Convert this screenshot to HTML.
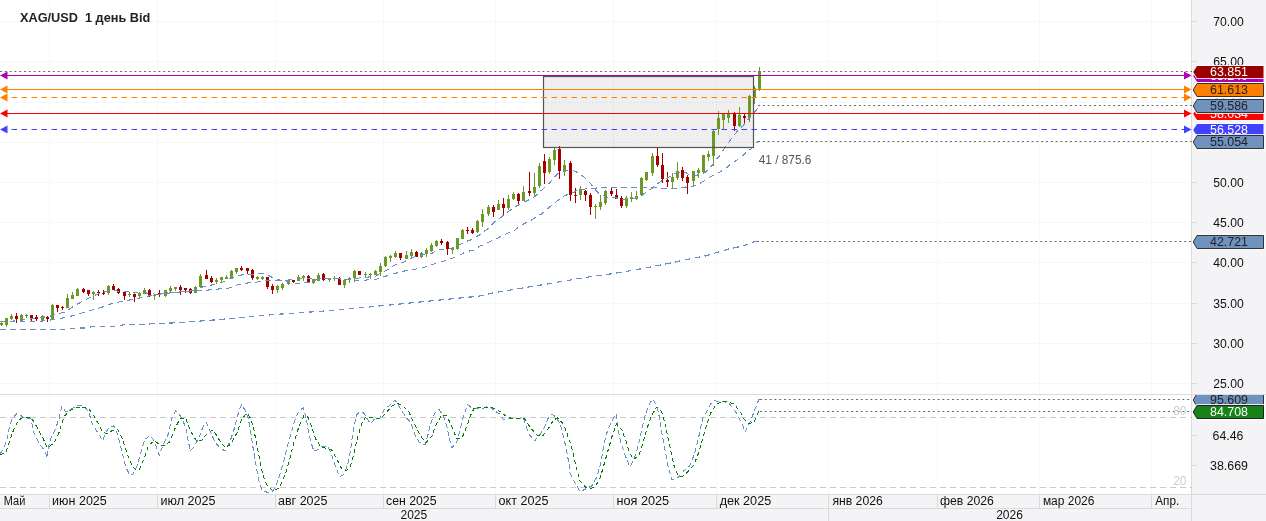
<!DOCTYPE html><html><head><meta charset="utf-8"><title>XAG/USD</title><style>html,body{margin:0;padding:0;background:#fff}svg{display:block}text{font-family:"Liberation Sans",sans-serif;font-size:12px}</style></head><body>
<svg width="1266" height="521" viewBox="0 0 1266 521">
<rect width="1266" height="521" fill="#fff"/>
<rect x="1192" y="0" width="74" height="521" fill="#f4f4f6"/>
<rect x="0" y="494" width="1266" height="27" fill="#f4f4f6"/>
<line x1="49.5" y1="0" x2="49.5" y2="494" stroke="#f7f7f7" stroke-width="1"/>
<line x1="157.5" y1="0" x2="157.5" y2="494" stroke="#f7f7f7" stroke-width="1"/>
<line x1="275.5" y1="0" x2="275.5" y2="494" stroke="#f7f7f7" stroke-width="1"/>
<line x1="383.5" y1="0" x2="383.5" y2="494" stroke="#f7f7f7" stroke-width="1"/>
<line x1="495.5" y1="0" x2="495.5" y2="494" stroke="#f7f7f7" stroke-width="1"/>
<line x1="613.5" y1="0" x2="613.5" y2="494" stroke="#f7f7f7" stroke-width="1"/>
<line x1="716.5" y1="0" x2="716.5" y2="494" stroke="#f7f7f7" stroke-width="1"/>
<line x1="828.5" y1="0" x2="828.5" y2="494" stroke="#f7f7f7" stroke-width="1"/>
<line x1="937.5" y1="0" x2="937.5" y2="494" stroke="#f7f7f7" stroke-width="1"/>
<line x1="1039.5" y1="0" x2="1039.5" y2="494" stroke="#f7f7f7" stroke-width="1"/>
<line x1="1151.5" y1="0" x2="1151.5" y2="494" stroke="#f7f7f7" stroke-width="1"/>
<line x1="0" y1="21.5" x2="1192" y2="21.5" stroke="#f7f7f7" stroke-width="1"/>
<line x1="0" y1="61.5" x2="1192" y2="61.5" stroke="#f7f7f7" stroke-width="1"/>
<line x1="0" y1="102.5" x2="1192" y2="102.5" stroke="#f7f7f7" stroke-width="1"/>
<line x1="0" y1="142.5" x2="1192" y2="142.5" stroke="#f7f7f7" stroke-width="1"/>
<line x1="0" y1="182.5" x2="1192" y2="182.5" stroke="#f7f7f7" stroke-width="1"/>
<line x1="0" y1="222.5" x2="1192" y2="222.5" stroke="#f7f7f7" stroke-width="1"/>
<line x1="0" y1="262.5" x2="1192" y2="262.5" stroke="#f7f7f7" stroke-width="1"/>
<line x1="0" y1="303.5" x2="1192" y2="303.5" stroke="#f7f7f7" stroke-width="1"/>
<line x1="0" y1="343.5" x2="1192" y2="343.5" stroke="#f7f7f7" stroke-width="1"/>
<line x1="0" y1="383.5" x2="1192" y2="383.5" stroke="#f7f7f7" stroke-width="1"/>
<line x1="1191.5" y1="0" x2="1191.5" y2="521" stroke="#dbdbdb"/>
<line x1="0" y1="394.5" x2="1266" y2="394.5" stroke="#dbdbdb"/>
<line x1="0" y1="494.5" x2="1266" y2="494.5" stroke="#dbdbdb"/>
<line x1="0" y1="508.5" x2="1192" y2="508.5" stroke="#dbdbdb"/>
<line x1="49.5" y1="494" x2="49.5" y2="508" stroke="#dbdbdb"/>
<line x1="157.5" y1="494" x2="157.5" y2="508" stroke="#dbdbdb"/>
<line x1="275.5" y1="494" x2="275.5" y2="508" stroke="#dbdbdb"/>
<line x1="383.5" y1="494" x2="383.5" y2="508" stroke="#dbdbdb"/>
<line x1="495.5" y1="494" x2="495.5" y2="508" stroke="#dbdbdb"/>
<line x1="613.5" y1="494" x2="613.5" y2="508" stroke="#dbdbdb"/>
<line x1="716.5" y1="494" x2="716.5" y2="508" stroke="#dbdbdb"/>
<line x1="828.5" y1="494" x2="828.5" y2="508" stroke="#dbdbdb"/>
<line x1="937.5" y1="494" x2="937.5" y2="508" stroke="#dbdbdb"/>
<line x1="1039.5" y1="494" x2="1039.5" y2="508" stroke="#dbdbdb"/>
<line x1="1151.5" y1="494" x2="1151.5" y2="508" stroke="#dbdbdb"/>
<line x1="828.5" y1="508" x2="828.5" y2="521" stroke="#dbdbdb"/>
<line x1="1192" y1="21.5" x2="1197" y2="21.5" stroke="#dbdbdb"/>
<text x="1213.2" y="25.8" fill="#111" textLength="30.5" lengthAdjust="spacingAndGlyphs">70.00</text>
<line x1="1192" y1="61.5" x2="1197" y2="61.5" stroke="#dbdbdb"/>
<text x="1213.2" y="65.8" fill="#111" textLength="30.5" lengthAdjust="spacingAndGlyphs">65.00</text>
<line x1="1192" y1="102.5" x2="1197" y2="102.5" stroke="#dbdbdb"/>
<text x="1213.2" y="106.8" fill="#111" textLength="30.5" lengthAdjust="spacingAndGlyphs">60.00</text>
<line x1="1192" y1="142.5" x2="1197" y2="142.5" stroke="#dbdbdb"/>
<text x="1213.2" y="146.8" fill="#111" textLength="30.5" lengthAdjust="spacingAndGlyphs">55.00</text>
<line x1="1192" y1="182.5" x2="1197" y2="182.5" stroke="#dbdbdb"/>
<text x="1213.2" y="186.8" fill="#111" textLength="30.5" lengthAdjust="spacingAndGlyphs">50.00</text>
<line x1="1192" y1="222.5" x2="1197" y2="222.5" stroke="#dbdbdb"/>
<text x="1213.2" y="226.8" fill="#111" textLength="30.5" lengthAdjust="spacingAndGlyphs">45.00</text>
<line x1="1192" y1="262.5" x2="1197" y2="262.5" stroke="#dbdbdb"/>
<text x="1213.2" y="266.8" fill="#111" textLength="30.5" lengthAdjust="spacingAndGlyphs">40.00</text>
<line x1="1192" y1="303.5" x2="1197" y2="303.5" stroke="#dbdbdb"/>
<text x="1213.2" y="307.8" fill="#111" textLength="30.5" lengthAdjust="spacingAndGlyphs">35.00</text>
<line x1="1192" y1="343.5" x2="1197" y2="343.5" stroke="#dbdbdb"/>
<text x="1213.2" y="347.8" fill="#111" textLength="30.5" lengthAdjust="spacingAndGlyphs">30.00</text>
<line x1="1192" y1="383.5" x2="1197" y2="383.5" stroke="#dbdbdb"/>
<text x="1213.2" y="387.8" fill="#111" textLength="30.5" lengthAdjust="spacingAndGlyphs">25.00</text>
<line x1="1192" y1="435.5" x2="1197" y2="435.5" stroke="#dbdbdb"/>
<text x="1212.6" y="439.8" fill="#111" textLength="30.8" lengthAdjust="spacingAndGlyphs">64.46</text>
<line x1="1192" y1="465.5" x2="1197" y2="465.5" stroke="#dbdbdb"/>
<text x="1210" y="469.8" fill="#111" textLength="38" lengthAdjust="spacingAndGlyphs">38.669</text>
<rect x="543.5" y="76.5" width="210" height="71" fill="#efefef"/>
<line x1="613.5" y1="77" x2="613.5" y2="147" stroke="#dadada" stroke-dasharray="1 2"/>
<line x1="716.5" y1="77" x2="716.5" y2="147" stroke="#dadada" stroke-dasharray="1 2"/>
<line x1="544" y1="102.5" x2="753" y2="102.5" stroke="#dadada" stroke-dasharray="1 2"/>
<line x1="544" y1="142.5" x2="753" y2="142.5" stroke="#dadada" stroke-dasharray="1 2"/>
<text x="3.8" y="505" fill="#111" textLength="21.5" lengthAdjust="spacingAndGlyphs">Май</text>
<text x="52.1" y="505" fill="#111" textLength="54.7" lengthAdjust="spacingAndGlyphs">июн 2025</text>
<text x="160.5" y="505" fill="#111" textLength="55" lengthAdjust="spacingAndGlyphs">июл 2025</text>
<text x="278" y="505" fill="#111" textLength="49.5" lengthAdjust="spacingAndGlyphs">авг 2025</text>
<text x="386" y="505" fill="#111" textLength="50.5" lengthAdjust="spacingAndGlyphs">сен 2025</text>
<text x="498.6" y="505" fill="#111" textLength="50" lengthAdjust="spacingAndGlyphs">окт 2025</text>
<text x="616.4" y="505" fill="#111" textLength="52.8" lengthAdjust="spacingAndGlyphs">ноя 2025</text>
<text x="719.7" y="505" fill="#111" textLength="51.5" lengthAdjust="spacingAndGlyphs">дек 2025</text>
<text x="832.4" y="505" fill="#111" textLength="50.4" lengthAdjust="spacingAndGlyphs">янв 2026</text>
<text x="939.9" y="505" fill="#111" textLength="54" lengthAdjust="spacingAndGlyphs">фев 2026</text>
<text x="1042.9" y="505" fill="#111" textLength="51.5" lengthAdjust="spacingAndGlyphs">мар 2026</text>
<text x="1155.2" y="505" fill="#111" textLength="24" lengthAdjust="spacingAndGlyphs">Апр.</text>
<text x="400.5" y="519" fill="#111">2025</text>
<text x="996.2" y="519" fill="#111">2026</text>
<text x="20" y="21.8" font-weight="bold" fill="#222" style="font-size:12.4px" textLength="130.3" lengthAdjust="spacingAndGlyphs" xml:space="preserve">XAG/USD  1 день Bid</text>
<g shape-rendering="crispEdges">
<line x1="1.5" y1="322.2" x2="1.5" y2="325.9" stroke="#6c9826" stroke-width="1"/>
<rect x="0.0" y="323.2" width="3" height="1.3" fill="#6c9826"/>
<line x1="6.5" y1="318.1" x2="6.5" y2="326.9" stroke="#6c9826" stroke-width="1"/>
<rect x="5.0" y="318.1" width="3" height="6.5" fill="#6c9826"/>
<line x1="11.5" y1="314.1" x2="11.5" y2="319.9" stroke="#6c9826" stroke-width="1"/>
<rect x="10.0" y="315.6" width="3" height="3.5" fill="#6c9826"/>
<line x1="16.5" y1="312.9" x2="16.5" y2="323.0" stroke="#a50000" stroke-width="1"/>
<rect x="15.0" y="315.8" width="3" height="3.3" fill="#a50000"/>
<line x1="21.5" y1="314.1" x2="21.5" y2="320.9" stroke="#6c9826" stroke-width="1"/>
<rect x="20.0" y="314.8" width="3" height="5.3" fill="#6c9826"/>
<line x1="26.5" y1="314.1" x2="26.5" y2="317.9" stroke="#6c9826" stroke-width="1"/>
<rect x="25.0" y="315.1" width="3" height="1.0" fill="#6c9826"/>
<line x1="31.5" y1="315.1" x2="31.5" y2="321.8" stroke="#a50000" stroke-width="1"/>
<rect x="30.0" y="315.1" width="3" height="3.0" fill="#a50000"/>
<line x1="36.5" y1="315.1" x2="36.5" y2="320.9" stroke="#a50000" stroke-width="1"/>
<rect x="35.0" y="317.3" width="3" height="2.1" fill="#a50000"/>
<line x1="42.5" y1="315.1" x2="42.5" y2="322.0" stroke="#6c9826" stroke-width="1"/>
<rect x="41.0" y="316.1" width="3" height="3.8" fill="#6c9826"/>
<line x1="47.5" y1="316.1" x2="47.5" y2="322.0" stroke="#a50000" stroke-width="1"/>
<rect x="46.0" y="316.6" width="3" height="2.8" fill="#a50000"/>
<line x1="52.5" y1="304.0" x2="52.5" y2="319.7" stroke="#6c9826" stroke-width="1"/>
<rect x="51.0" y="305.0" width="3" height="14.7" fill="#6c9826"/>
<line x1="57.5" y1="305.0" x2="57.5" y2="311.9" stroke="#a50000" stroke-width="1"/>
<rect x="56.0" y="305.2" width="3" height="2.6" fill="#a50000"/>
<line x1="62.5" y1="305.8" x2="62.5" y2="309.9" stroke="#a50000" stroke-width="1"/>
<rect x="61.0" y="306.9" width="3" height="1.0" fill="#a50000"/>
<line x1="67.5" y1="294.0" x2="67.5" y2="307.8" stroke="#6c9826" stroke-width="1"/>
<rect x="66.0" y="297.8" width="3" height="10.0" fill="#6c9826"/>
<line x1="72.5" y1="292.0" x2="72.5" y2="298.9" stroke="#6c9826" stroke-width="1"/>
<rect x="71.0" y="295.0" width="3" height="3.9" fill="#6c9826"/>
<line x1="77.5" y1="288.1" x2="77.5" y2="295.8" stroke="#6c9826" stroke-width="1"/>
<rect x="76.0" y="288.9" width="3" height="6.9" fill="#6c9826"/>
<line x1="83.5" y1="288.1" x2="83.5" y2="293.0" stroke="#a50000" stroke-width="1"/>
<rect x="82.0" y="288.9" width="3" height="3.1" fill="#a50000"/>
<line x1="88.5" y1="289.9" x2="88.5" y2="295.8" stroke="#a50000" stroke-width="1"/>
<rect x="87.0" y="289.9" width="3" height="3.8" fill="#a50000"/>
<line x1="93.5" y1="291.0" x2="93.5" y2="299.9" stroke="#6c9826" stroke-width="1"/>
<rect x="92.0" y="292.0" width="3" height="2.1" fill="#6c9826"/>
<line x1="98.5" y1="289.9" x2="98.5" y2="295.8" stroke="#a50000" stroke-width="1"/>
<rect x="97.0" y="292.0" width="3" height="1.0" fill="#a50000"/>
<line x1="103.5" y1="289.9" x2="103.5" y2="295.0" stroke="#a50000" stroke-width="1"/>
<rect x="102.0" y="292.5" width="3" height="1.5" fill="#a50000"/>
<line x1="108.5" y1="285.1" x2="108.5" y2="295.0" stroke="#6c9826" stroke-width="1"/>
<rect x="107.0" y="286.1" width="3" height="6.9" fill="#6c9826"/>
<line x1="113.5" y1="284.1" x2="113.5" y2="290.1" stroke="#a50000" stroke-width="1"/>
<rect x="112.0" y="286.1" width="3" height="4.0" fill="#a50000"/>
<line x1="118.5" y1="287.9" x2="118.5" y2="294.0" stroke="#a50000" stroke-width="1"/>
<rect x="117.0" y="288.9" width="3" height="4.1" fill="#a50000"/>
<line x1="124.5" y1="290.9" x2="124.5" y2="300.0" stroke="#a50000" stroke-width="1"/>
<rect x="123.0" y="292.0" width="3" height="3.9" fill="#a50000"/>
<line x1="129.5" y1="292.0" x2="129.5" y2="296.9" stroke="#6c9826" stroke-width="1"/>
<rect x="128.0" y="293.8" width="3" height="1.0" fill="#6c9826"/>
<line x1="134.5" y1="293.0" x2="134.5" y2="302.0" stroke="#a50000" stroke-width="1"/>
<rect x="133.0" y="294.0" width="3" height="2.9" fill="#a50000"/>
<line x1="139.5" y1="292.0" x2="139.5" y2="297.9" stroke="#6c9826" stroke-width="1"/>
<rect x="138.0" y="292.8" width="3" height="3.1" fill="#6c9826"/>
<line x1="144.5" y1="287.9" x2="144.5" y2="293.8" stroke="#6c9826" stroke-width="1"/>
<rect x="143.0" y="289.9" width="3" height="3.9" fill="#6c9826"/>
<line x1="149.5" y1="288.9" x2="149.5" y2="296.9" stroke="#a50000" stroke-width="1"/>
<rect x="148.0" y="289.9" width="3" height="6.0" fill="#a50000"/>
<line x1="154.5" y1="294.0" x2="154.5" y2="300.0" stroke="#6c9826" stroke-width="1"/>
<rect x="153.0" y="294.8" width="3" height="1.0" fill="#6c9826"/>
<line x1="159.5" y1="289.9" x2="159.5" y2="296.9" stroke="#a50000" stroke-width="1"/>
<rect x="158.0" y="292.8" width="3" height="1.2" fill="#a50000"/>
<line x1="165.5" y1="289.9" x2="165.5" y2="296.9" stroke="#6c9826" stroke-width="1"/>
<rect x="164.0" y="290.1" width="3" height="5.7" fill="#6c9826"/>
<line x1="170.5" y1="285.8" x2="170.5" y2="292.0" stroke="#6c9826" stroke-width="1"/>
<rect x="169.0" y="287.9" width="3" height="3.1" fill="#6c9826"/>
<line x1="175.5" y1="287.0" x2="175.5" y2="290.9" stroke="#6c9826" stroke-width="1"/>
<rect x="174.0" y="287.3" width="3" height="1.5" fill="#6c9826"/>
<line x1="180.5" y1="285.1" x2="180.5" y2="295.0" stroke="#a50000" stroke-width="1"/>
<rect x="179.0" y="287.0" width="3" height="2.9" fill="#a50000"/>
<line x1="185.5" y1="288.1" x2="185.5" y2="293.0" stroke="#a50000" stroke-width="1"/>
<rect x="184.0" y="288.1" width="3" height="1.8" fill="#a50000"/>
<line x1="190.5" y1="288.1" x2="190.5" y2="294.0" stroke="#a50000" stroke-width="1"/>
<rect x="189.0" y="289.4" width="3" height="3.6" fill="#a50000"/>
<line x1="195.5" y1="285.8" x2="195.5" y2="293.0" stroke="#6c9826" stroke-width="1"/>
<rect x="194.0" y="287.0" width="3" height="6.0" fill="#6c9826"/>
<line x1="200.5" y1="274.0" x2="200.5" y2="287.0" stroke="#6c9826" stroke-width="1"/>
<rect x="199.0" y="276.0" width="3" height="11.0" fill="#6c9826"/>
<line x1="206.5" y1="269.9" x2="206.5" y2="278.8" stroke="#a50000" stroke-width="1"/>
<rect x="205.0" y="275.0" width="3" height="3.8" fill="#a50000"/>
<line x1="211.5" y1="276.0" x2="211.5" y2="282.9" stroke="#a50000" stroke-width="1"/>
<rect x="210.0" y="277.8" width="3" height="4.1" fill="#a50000"/>
<line x1="216.5" y1="278.1" x2="216.5" y2="283.7" stroke="#6c9826" stroke-width="1"/>
<rect x="215.0" y="279.6" width="3" height="2.3" fill="#6c9826"/>
<line x1="221.5" y1="277.2" x2="221.5" y2="281.8" stroke="#6c9826" stroke-width="1"/>
<rect x="220.0" y="277.2" width="3" height="2.8" fill="#6c9826"/>
<line x1="226.5" y1="275.2" x2="226.5" y2="279.3" stroke="#6c9826" stroke-width="1"/>
<rect x="225.0" y="276.7" width="3" height="2.1" fill="#6c9826"/>
<line x1="231.5" y1="270.0" x2="231.5" y2="278.7" stroke="#6c9826" stroke-width="1"/>
<rect x="230.0" y="271.0" width="3" height="7.7" fill="#6c9826"/>
<line x1="236.5" y1="268.0" x2="236.5" y2="273.8" stroke="#6c9826" stroke-width="1"/>
<rect x="235.0" y="268.0" width="3" height="4.1" fill="#6c9826"/>
<line x1="241.5" y1="265.9" x2="241.5" y2="271.0" stroke="#a50000" stroke-width="1"/>
<rect x="240.0" y="268.0" width="3" height="2.1" fill="#a50000"/>
<line x1="247.5" y1="268.0" x2="247.5" y2="273.8" stroke="#a50000" stroke-width="1"/>
<rect x="246.0" y="268.0" width="3" height="3.1" fill="#a50000"/>
<line x1="252.5" y1="269.0" x2="252.5" y2="279.8" stroke="#a50000" stroke-width="1"/>
<rect x="251.0" y="270.0" width="3" height="7.9" fill="#a50000"/>
<line x1="257.5" y1="276.2" x2="257.5" y2="279.8" stroke="#6c9826" stroke-width="1"/>
<rect x="256.0" y="277.0" width="3" height="1.7" fill="#6c9826"/>
<line x1="262.5" y1="276.2" x2="262.5" y2="279.8" stroke="#6c9826" stroke-width="1"/>
<rect x="261.0" y="277.0" width="3" height="1.7" fill="#6c9826"/>
<line x1="267.5" y1="277.0" x2="267.5" y2="288.8" stroke="#a50000" stroke-width="1"/>
<rect x="266.0" y="277.0" width="3" height="9.8" fill="#a50000"/>
<line x1="272.5" y1="284.1" x2="272.5" y2="293.9" stroke="#a50000" stroke-width="1"/>
<rect x="271.0" y="285.9" width="3" height="4.1" fill="#a50000"/>
<line x1="277.5" y1="285.1" x2="277.5" y2="292.9" stroke="#6c9826" stroke-width="1"/>
<rect x="276.0" y="285.9" width="3" height="4.1" fill="#6c9826"/>
<line x1="282.5" y1="283.1" x2="282.5" y2="289.8" stroke="#6c9826" stroke-width="1"/>
<rect x="281.0" y="283.9" width="3" height="4.1" fill="#6c9826"/>
<line x1="288.5" y1="280.1" x2="288.5" y2="284.9" stroke="#6c9826" stroke-width="1"/>
<rect x="287.0" y="280.1" width="3" height="3.8" fill="#6c9826"/>
<line x1="293.5" y1="280.1" x2="293.5" y2="282.9" stroke="#a50000" stroke-width="1"/>
<rect x="292.0" y="280.1" width="3" height="1.7" fill="#a50000"/>
<line x1="298.5" y1="275.2" x2="298.5" y2="280.8" stroke="#6c9826" stroke-width="1"/>
<rect x="297.0" y="276.9" width="3" height="3.9" fill="#6c9826"/>
<line x1="303.5" y1="275.2" x2="303.5" y2="280.8" stroke="#6c9826" stroke-width="1"/>
<rect x="302.0" y="276.2" width="3" height="2.1" fill="#6c9826"/>
<line x1="308.5" y1="275.2" x2="308.5" y2="282.9" stroke="#a50000" stroke-width="1"/>
<rect x="307.0" y="276.2" width="3" height="6.7" fill="#a50000"/>
<line x1="313.5" y1="279.1" x2="313.5" y2="283.9" stroke="#6c9826" stroke-width="1"/>
<rect x="312.0" y="279.1" width="3" height="3.8" fill="#6c9826"/>
<line x1="318.5" y1="273.1" x2="318.5" y2="280.8" stroke="#6c9826" stroke-width="1"/>
<rect x="317.0" y="274.9" width="3" height="5.9" fill="#6c9826"/>
<line x1="323.5" y1="273.1" x2="323.5" y2="280.8" stroke="#a50000" stroke-width="1"/>
<rect x="322.0" y="274.1" width="3" height="5.6" fill="#a50000"/>
<line x1="329.5" y1="278.2" x2="329.5" y2="281.8" stroke="#6c9826" stroke-width="1"/>
<rect x="328.0" y="279.1" width="3" height="1.0" fill="#6c9826"/>
<line x1="334.5" y1="276.2" x2="334.5" y2="280.8" stroke="#6c9826" stroke-width="1"/>
<rect x="333.0" y="278.2" width="3" height="1.0" fill="#6c9826"/>
<line x1="339.5" y1="277.2" x2="339.5" y2="284.9" stroke="#a50000" stroke-width="1"/>
<rect x="338.0" y="278.2" width="3" height="6.7" fill="#a50000"/>
<line x1="344.5" y1="279.1" x2="344.5" y2="287.8" stroke="#6c9826" stroke-width="1"/>
<rect x="343.0" y="280.1" width="3" height="4.8" fill="#6c9826"/>
<line x1="349.5" y1="276.9" x2="349.5" y2="283.0" stroke="#6c9826" stroke-width="1"/>
<rect x="348.0" y="277.9" width="3" height="2.3" fill="#6c9826"/>
<line x1="354.5" y1="269.9" x2="354.5" y2="282.0" stroke="#6c9826" stroke-width="1"/>
<rect x="353.0" y="270.9" width="3" height="7.2" fill="#6c9826"/>
<line x1="359.5" y1="270.9" x2="359.5" y2="274.8" stroke="#a50000" stroke-width="1"/>
<rect x="358.0" y="270.9" width="3" height="3.9" fill="#a50000"/>
<line x1="365.5" y1="272.0" x2="365.5" y2="276.9" stroke="#6c9826" stroke-width="1"/>
<rect x="364.0" y="273.5" width="3" height="1.3" fill="#6c9826"/>
<line x1="370.5" y1="273.0" x2="370.5" y2="278.9" stroke="#6c9826" stroke-width="1"/>
<rect x="369.0" y="273.8" width="3" height="1.0" fill="#6c9826"/>
<line x1="375.5" y1="269.9" x2="375.5" y2="274.8" stroke="#6c9826" stroke-width="1"/>
<rect x="374.0" y="270.9" width="3" height="3.9" fill="#6c9826"/>
<line x1="380.5" y1="262.9" x2="380.5" y2="275.9" stroke="#6c9826" stroke-width="1"/>
<rect x="379.0" y="266.1" width="3" height="5.9" fill="#6c9826"/>
<line x1="385.5" y1="256.0" x2="385.5" y2="266.8" stroke="#6c9826" stroke-width="1"/>
<rect x="384.0" y="257.1" width="3" height="8.7" fill="#6c9826"/>
<line x1="390.5" y1="255.0" x2="390.5" y2="261.9" stroke="#6c9826" stroke-width="1"/>
<rect x="389.0" y="256.0" width="3" height="1.7" fill="#6c9826"/>
<line x1="395.5" y1="250.9" x2="395.5" y2="257.8" stroke="#6c9826" stroke-width="1"/>
<rect x="394.0" y="253.0" width="3" height="4.1" fill="#6c9826"/>
<line x1="400.5" y1="253.0" x2="400.5" y2="259.9" stroke="#a50000" stroke-width="1"/>
<rect x="399.0" y="253.0" width="3" height="4.8" fill="#a50000"/>
<line x1="406.5" y1="250.9" x2="406.5" y2="258.8" stroke="#6c9826" stroke-width="1"/>
<rect x="405.0" y="255.0" width="3" height="3.8" fill="#6c9826"/>
<line x1="411.5" y1="248.9" x2="411.5" y2="257.8" stroke="#6c9826" stroke-width="1"/>
<rect x="410.0" y="251.9" width="3" height="3.6" fill="#6c9826"/>
<line x1="416.5" y1="250.9" x2="416.5" y2="256.9" stroke="#a50000" stroke-width="1"/>
<rect x="415.0" y="251.9" width="3" height="4.9" fill="#a50000"/>
<line x1="421.5" y1="251.9" x2="421.5" y2="257.8" stroke="#6c9826" stroke-width="1"/>
<rect x="420.0" y="253.0" width="3" height="3.9" fill="#6c9826"/>
<line x1="426.5" y1="247.8" x2="426.5" y2="256.9" stroke="#6c9826" stroke-width="1"/>
<rect x="425.0" y="249.9" width="3" height="4.1" fill="#6c9826"/>
<line x1="431.5" y1="243.0" x2="431.5" y2="251.9" stroke="#6c9826" stroke-width="1"/>
<rect x="430.0" y="244.8" width="3" height="6.2" fill="#6c9826"/>
<line x1="436.5" y1="239.9" x2="436.5" y2="246.8" stroke="#6c9826" stroke-width="1"/>
<rect x="435.0" y="241.0" width="3" height="4.8" fill="#6c9826"/>
<line x1="441.5" y1="238.9" x2="441.5" y2="245.0" stroke="#a50000" stroke-width="1"/>
<rect x="440.0" y="241.0" width="3" height="2.1" fill="#a50000"/>
<line x1="447.5" y1="241.0" x2="447.5" y2="255.0" stroke="#a50000" stroke-width="1"/>
<rect x="446.0" y="242.0" width="3" height="6.9" fill="#a50000"/>
<line x1="452.5" y1="246.8" x2="452.5" y2="254.0" stroke="#6c9826" stroke-width="1"/>
<rect x="451.0" y="247.8" width="3" height="2.1" fill="#6c9826"/>
<line x1="457.5" y1="237.9" x2="457.5" y2="249.9" stroke="#6c9826" stroke-width="1"/>
<rect x="456.0" y="237.9" width="3" height="11.0" fill="#6c9826"/>
<line x1="462.5" y1="229.1" x2="462.5" y2="238.7" stroke="#6c9826" stroke-width="1"/>
<rect x="461.0" y="230.4" width="3" height="8.3" fill="#6c9826"/>
<line x1="467.5" y1="227.0" x2="467.5" y2="233.8" stroke="#a50000" stroke-width="1"/>
<rect x="466.0" y="230.0" width="3" height="1.1" fill="#a50000"/>
<line x1="472.5" y1="228.0" x2="472.5" y2="234.0" stroke="#a50000" stroke-width="1"/>
<rect x="471.0" y="229.7" width="3" height="3.4" fill="#a50000"/>
<line x1="477.5" y1="219.9" x2="477.5" y2="233.1" stroke="#6c9826" stroke-width="1"/>
<rect x="476.0" y="221.0" width="3" height="11.2" fill="#6c9826"/>
<line x1="482.5" y1="208.9" x2="482.5" y2="227.0" stroke="#6c9826" stroke-width="1"/>
<rect x="481.0" y="214.3" width="3" height="7.7" fill="#6c9826"/>
<line x1="488.5" y1="204.9" x2="488.5" y2="216.0" stroke="#6c9826" stroke-width="1"/>
<rect x="487.0" y="206.9" width="3" height="7.0" fill="#6c9826"/>
<line x1="493.5" y1="204.9" x2="493.5" y2="217.0" stroke="#a50000" stroke-width="1"/>
<rect x="492.0" y="206.9" width="3" height="5.0" fill="#a50000"/>
<line x1="498.5" y1="199.9" x2="498.5" y2="209.8" stroke="#6c9826" stroke-width="1"/>
<rect x="497.0" y="203.9" width="3" height="5.9" fill="#6c9826"/>
<line x1="503.5" y1="197.9" x2="503.5" y2="216.0" stroke="#a50000" stroke-width="1"/>
<rect x="502.0" y="203.9" width="3" height="3.9" fill="#a50000"/>
<line x1="508.5" y1="194.8" x2="508.5" y2="209.8" stroke="#6c9826" stroke-width="1"/>
<rect x="507.0" y="198.8" width="3" height="9.0" fill="#6c9826"/>
<line x1="513.5" y1="191.8" x2="513.5" y2="199.9" stroke="#6c9826" stroke-width="1"/>
<rect x="512.0" y="193.8" width="3" height="5.0" fill="#6c9826"/>
<line x1="518.5" y1="192.8" x2="518.5" y2="204.9" stroke="#a50000" stroke-width="1"/>
<rect x="517.0" y="193.8" width="3" height="7.0" fill="#a50000"/>
<line x1="523.5" y1="186.0" x2="523.5" y2="201.2" stroke="#6c9826" stroke-width="1"/>
<rect x="522.0" y="191.9" width="3" height="9.3" fill="#6c9826"/>
<line x1="529.5" y1="171.8" x2="529.5" y2="196.0" stroke="#a50000" stroke-width="1"/>
<rect x="528.0" y="191.1" width="3" height="2.0" fill="#a50000"/>
<line x1="534.5" y1="172.6" x2="534.5" y2="197.1" stroke="#6c9826" stroke-width="1"/>
<rect x="533.0" y="187.0" width="3" height="6.0" fill="#6c9826"/>
<line x1="539.5" y1="162.8" x2="539.5" y2="187.8" stroke="#6c9826" stroke-width="1"/>
<rect x="538.0" y="165.8" width="3" height="20.2" fill="#6c9826"/>
<line x1="544.5" y1="153.9" x2="544.5" y2="184.0" stroke="#a50000" stroke-width="1"/>
<rect x="543.0" y="160.9" width="3" height="12.1" fill="#a50000"/>
<line x1="549.5" y1="156.8" x2="549.5" y2="173.9" stroke="#6c9826" stroke-width="1"/>
<rect x="548.0" y="158.8" width="3" height="13.1" fill="#6c9826"/>
<line x1="554.5" y1="147.8" x2="554.5" y2="165.0" stroke="#6c9826" stroke-width="1"/>
<rect x="553.0" y="149.8" width="3" height="10.1" fill="#6c9826"/>
<line x1="559.5" y1="146.2" x2="559.5" y2="178.8" stroke="#a50000" stroke-width="1"/>
<rect x="558.0" y="149.0" width="3" height="21.7" fill="#a50000"/>
<line x1="564.5" y1="159.9" x2="564.5" y2="175.9" stroke="#6c9826" stroke-width="1"/>
<rect x="563.0" y="165.0" width="3" height="5.7" fill="#6c9826"/>
<line x1="570.5" y1="160.9" x2="570.5" y2="200.8" stroke="#a50000" stroke-width="1"/>
<rect x="569.0" y="162.8" width="3" height="31.8" fill="#a50000"/>
<line x1="575.5" y1="187.8" x2="575.5" y2="202.8" stroke="#a50000" stroke-width="1"/>
<rect x="574.0" y="195.1" width="3" height="1.0" fill="#a50000"/>
<line x1="580.5" y1="186.0" x2="580.5" y2="200.0" stroke="#6c9826" stroke-width="1"/>
<rect x="579.0" y="188.9" width="3" height="6.2" fill="#6c9826"/>
<line x1="585.5" y1="189.8" x2="585.5" y2="200.8" stroke="#a50000" stroke-width="1"/>
<rect x="584.0" y="190.9" width="3" height="4.2" fill="#a50000"/>
<line x1="590.5" y1="193.0" x2="590.5" y2="215.0" stroke="#a50000" stroke-width="1"/>
<rect x="589.0" y="195.1" width="3" height="11.7" fill="#a50000"/>
<line x1="595.5" y1="203.9" x2="595.5" y2="218.8" stroke="#6c9826" stroke-width="1"/>
<rect x="594.0" y="205.7" width="3" height="1.1" fill="#6c9826"/>
<line x1="600.5" y1="194.6" x2="600.5" y2="209.8" stroke="#6c9826" stroke-width="1"/>
<rect x="599.0" y="202.0" width="3" height="4.9" fill="#6c9826"/>
<line x1="605.5" y1="189.8" x2="605.5" y2="204.9" stroke="#6c9826" stroke-width="1"/>
<rect x="604.0" y="190.9" width="3" height="11.9" fill="#6c9826"/>
<line x1="611.5" y1="187.8" x2="611.5" y2="196.0" stroke="#a50000" stroke-width="1"/>
<rect x="610.0" y="190.9" width="3" height="2.9" fill="#a50000"/>
<line x1="616.5" y1="188.9" x2="616.5" y2="198.7" stroke="#a50000" stroke-width="1"/>
<rect x="615.0" y="195.1" width="3" height="3.6" fill="#a50000"/>
<line x1="621.5" y1="196.0" x2="621.5" y2="207.7" stroke="#a50000" stroke-width="1"/>
<rect x="620.0" y="197.9" width="3" height="7.8" fill="#a50000"/>
<line x1="626.5" y1="196.0" x2="626.5" y2="207.7" stroke="#6c9826" stroke-width="1"/>
<rect x="625.0" y="197.9" width="3" height="7.8" fill="#6c9826"/>
<line x1="631.5" y1="191.9" x2="631.5" y2="202.0" stroke="#6c9826" stroke-width="1"/>
<rect x="630.0" y="197.1" width="3" height="1.6" fill="#6c9826"/>
<line x1="636.5" y1="190.9" x2="636.5" y2="200.0" stroke="#6c9826" stroke-width="1"/>
<rect x="635.0" y="196.0" width="3" height="2.8" fill="#6c9826"/>
<line x1="641.5" y1="176.7" x2="641.5" y2="196.0" stroke="#6c9826" stroke-width="1"/>
<rect x="640.0" y="177.8" width="3" height="17.3" fill="#6c9826"/>
<line x1="646.5" y1="171.8" x2="646.5" y2="180.8" stroke="#6c9826" stroke-width="1"/>
<rect x="645.0" y="172.3" width="3" height="7.7" fill="#6c9826"/>
<line x1="652.5" y1="153.1" x2="652.5" y2="175.9" stroke="#6c9826" stroke-width="1"/>
<rect x="651.0" y="156.0" width="3" height="17.0" fill="#6c9826"/>
<line x1="657.5" y1="147.8" x2="657.5" y2="166.9" stroke="#a50000" stroke-width="1"/>
<rect x="656.0" y="156.0" width="3" height="8.8" fill="#a50000"/>
<line x1="662.5" y1="153.1" x2="662.5" y2="182.9" stroke="#a50000" stroke-width="1"/>
<rect x="661.0" y="165.0" width="3" height="14.2" fill="#a50000"/>
<line x1="667.5" y1="171.8" x2="667.5" y2="187.0" stroke="#a50000" stroke-width="1"/>
<rect x="666.0" y="179.6" width="3" height="2.3" fill="#a50000"/>
<line x1="672.5" y1="173.0" x2="672.5" y2="187.8" stroke="#6c9826" stroke-width="1"/>
<rect x="671.0" y="177.2" width="3" height="4.7" fill="#6c9826"/>
<line x1="677.5" y1="162.0" x2="677.5" y2="180.0" stroke="#6c9826" stroke-width="1"/>
<rect x="676.0" y="171.0" width="3" height="6.9" fill="#6c9826"/>
<line x1="682.5" y1="167.2" x2="682.5" y2="180.7" stroke="#a50000" stroke-width="1"/>
<rect x="681.0" y="170.0" width="3" height="7.8" fill="#a50000"/>
<line x1="687.5" y1="175.0" x2="687.5" y2="193.8" stroke="#a50000" stroke-width="1"/>
<rect x="686.0" y="177.0" width="3" height="5.7" fill="#a50000"/>
<line x1="693.5" y1="171.0" x2="693.5" y2="184.8" stroke="#6c9826" stroke-width="1"/>
<rect x="692.0" y="171.3" width="3" height="9.5" fill="#6c9826"/>
<line x1="698.5" y1="168.0" x2="698.5" y2="177.8" stroke="#6c9826" stroke-width="1"/>
<rect x="697.0" y="170.1" width="3" height="3.3" fill="#6c9826"/>
<line x1="703.5" y1="155.0" x2="703.5" y2="172.9" stroke="#6c9826" stroke-width="1"/>
<rect x="702.0" y="155.0" width="3" height="17.1" fill="#6c9826"/>
<line x1="708.5" y1="150.9" x2="708.5" y2="160.7" stroke="#6c9826" stroke-width="1"/>
<rect x="707.0" y="154.2" width="3" height="2.9" fill="#6c9826"/>
<line x1="713.5" y1="130.0" x2="713.5" y2="165.6" stroke="#6c9826" stroke-width="1"/>
<rect x="712.0" y="131.0" width="3" height="24.8" fill="#6c9826"/>
<line x1="718.5" y1="111.0" x2="718.5" y2="134.9" stroke="#6c9826" stroke-width="1"/>
<rect x="717.0" y="117.8" width="3" height="10.9" fill="#6c9826"/>
<line x1="723.5" y1="112.9" x2="723.5" y2="128.7" stroke="#6c9826" stroke-width="1"/>
<rect x="722.0" y="114.1" width="3" height="5.9" fill="#6c9826"/>
<line x1="728.5" y1="110.1" x2="728.5" y2="122.7" stroke="#6c9826" stroke-width="1"/>
<rect x="727.0" y="113.7" width="3" height="4.1" fill="#6c9826"/>
<line x1="734.5" y1="112.1" x2="734.5" y2="130.9" stroke="#a50000" stroke-width="1"/>
<rect x="733.0" y="113.7" width="3" height="11.9" fill="#a50000"/>
<line x1="739.5" y1="107.2" x2="739.5" y2="126.8" stroke="#6c9826" stroke-width="1"/>
<rect x="738.0" y="115.0" width="3" height="10.9" fill="#6c9826"/>
<line x1="744.5" y1="114.1" x2="744.5" y2="122.7" stroke="#a50000" stroke-width="1"/>
<rect x="743.0" y="116.2" width="3" height="1.6" fill="#a50000"/>
<line x1="749.5" y1="95.0" x2="749.5" y2="121.9" stroke="#6c9826" stroke-width="1"/>
<rect x="748.0" y="95.8" width="3" height="22.0" fill="#6c9826"/>
<line x1="754.5" y1="86.0" x2="754.5" y2="103.9" stroke="#6c9826" stroke-width="1"/>
<rect x="753.0" y="88.0" width="3" height="10.3" fill="#6c9826"/>
<line x1="759.5" y1="66.9" x2="759.5" y2="90.9" stroke="#6c9826" stroke-width="1"/>
<rect x="758.0" y="71.0" width="3" height="17.9" fill="#6c9826"/>
</g>
<polyline points="0.0,329.6 65.0,329.6 69.0,328.3 88.0,327.9 91.0,326.8 119.0,326.4 123.0,324.8 140.0,324.5 153.5,323.7 173.0,322.9 186.0,322.1 194.6,321.5 217.5,319.7 235.8,318.1 258.7,315.8 281.6,314.0 304.5,312.4 327.4,310.8 350.3,308.5 373.2,306.6 396.0,304.4 419.0,302.1 442.0,299.8 464.8,297.5 478.6,296.3 493.7,292.8 517.4,288.8 541.0,285.0 564.8,281.0 588.5,277.0 612.2,273.7 635.9,269.8 659.6,265.2 683.3,260.3 707.0,255.6 718.8,251.8 730.7,248.5 742.5,246.1 754.4,241.8 757.0,241.1" fill="none" stroke="#6a8fc6" stroke-width="1.2" stroke-dasharray="5.5 4.5" shape-rendering="crispEdges"/>
<polyline points="0.0,321.5 28.0,321.4 38.0,321.4 48.0,320.4 58.0,318.9 68.0,316.8 77.0,314.6 87.0,311.5 96.0,308.8 106.0,306.0 112.0,303.3 118.0,302.2 122.0,301.4 127.7,300.4 132.0,299.4 138.0,298.6 142.0,297.3 147.7,296.3 152.0,295.0 156.5,294.5 165.0,293.5 175.0,292.5 185.0,291.5 196.0,290.5 201.0,290.4 206.8,290.4 211.4,289.4 217.0,289.4 221.0,288.5 226.7,288.5 231.3,287.5 235.4,285.4 240.0,284.4 245.7,283.4 250.0,282.3 256.0,282.3 260.0,281.3 264.0,280.6 270.0,280.3 276.0,280.3 285.7,280.8 293.4,283.4 298.5,283.4 303.7,282.3 309.0,282.3 313.0,280.8 316.0,279.8 319.6,279.3 321.6,278.2 328.0,278.2 337.0,278.7 348.0,279.8 359.0,280.4 364.6,280.4 369.0,279.4 375.0,279.4 379.0,278.6 384.7,276.4 389.0,275.5 393.4,273.8 398.5,272.5 403.6,271.1 408.0,270.4 413.4,269.7 418.0,268.4 423.7,267.6 428.0,265.8 433.0,264.6 437.0,262.5 442.7,261.5 446.8,260.2 452.0,258.4 456.0,256.6 460.6,254.7 465.0,252.2 470.0,250.9 474.5,249.9 479.0,246.5 484.0,244.5 488.6,242.1 492.6,240.2 497.3,238.5 501.4,235.8 506.7,233.8 510.8,231.1 514.8,230.0 519.5,226.4 523.5,224.1 528.0,221.7 532.0,219.7 537.0,216.3 541.0,214.3 544.5,211.0 547.7,208.5 551.8,205.3 555.0,202.8 559.0,199.5 561.6,197.0 565.0,195.5 569.0,194.3 574.0,192.2 577.0,190.2 585.0,189.0 588.5,188.4 595.0,188.1 600.0,187.8 609.7,187.5 652.0,187.6 658.0,187.6 662.8,188.5 667.7,188.9 673.4,188.9 678.3,188.1 683.0,187.3 688.0,186.8 693.0,186.3 696.3,184.8 701.0,182.7 705.3,180.3 710.0,177.0 715.0,174.5 720.0,172.1 723.0,169.6 727.3,167.2 731.4,163.1 736.3,160.7 739.5,157.4 743.6,155.0 747.0,151.7 751.8,148.4 754.0,146.0 758.4,141.1" fill="none" stroke="#6a8fc6" stroke-width="1.1" stroke-dasharray="5.5 4.5" shape-rendering="crispEdges"/>
<polyline points="0.0,321.5 5.0,321.4 15.0,321.0 28.0,319.4 38.0,317.9 48.0,316.6 57.0,314.3 66.0,311.5 75.0,305.5 83.0,301.0 92.0,296.3 101.0,293.0 109.0,290.7 115.0,290.4 118.5,291.4 124.0,291.4 133.0,291.1 134.4,293.0 138.0,292.8 144.0,292.2 148.0,293.5 153.0,293.8 156.5,294.5 161.6,293.8 166.7,293.2 168.0,292.5 177.0,292.2 178.0,291.4 187.0,291.1 188.0,290.4 196.5,289.9 198.0,287.6 202.7,287.0 206.8,285.8 213.0,284.8 217.0,283.2 222.7,282.2 226.7,280.3 229.8,278.7 235.4,276.5 240.5,275.2 245.0,274.4 255.4,274.4 260.6,273.4 265.0,274.1 269.8,276.2 274.4,278.2 278.5,279.8 285.7,280.8 290.0,279.6 295.5,279.6 298.0,278.5 305.0,278.2 315.0,278.2 316.5,279.8 319.6,279.3 321.6,278.2 328.0,278.2 337.0,278.7 348.0,279.8 352.0,278.6 357.5,278.3 362.0,277.3 367.0,277.3 372.0,276.4 376.0,276.1 381.6,272.5 386.7,270.4 390.0,268.0 394.4,265.3 399.5,262.9 403.7,262.2 408.0,259.6 414.0,257.0 417.0,255.5 422.6,255.0 427.0,253.7 432.4,253.0 437.0,250.4 441.6,249.4 446.8,248.9 451.4,248.3 456.5,245.8 460.4,244.5 465.0,241.6 469.8,240.5 473.8,237.8 479.0,235.4 482.5,232.4 486.6,229.7 490.0,226.4 494.0,222.3 497.3,219.7 501.4,217.0 506.0,212.9 509.4,210.9 513.5,207.6 518.8,204.9 522.9,202.2 527.0,200.8 531.6,198.1 535.6,196.1 539.0,192.8 542.0,189.8 545.3,186.5 550.0,182.4 553.4,177.5 556.7,175.0 559.0,172.6 566.5,170.7 570.6,170.2 575.5,171.3 578.7,173.4 583.6,176.7 587.0,180.0 591.0,184.0 593.4,187.3 596.7,191.4 600.0,194.0 603.0,195.5 605.7,197.1 610.0,197.4 614.7,197.4 619.6,199.0 630.0,199.5 632.6,198.7 640.0,197.0 642.4,195.1 644.0,193.8 647.3,191.4 653.0,187.8 655.5,184.9 659.5,182.4 662.8,180.0 667.7,178.0 671.0,175.9 675.0,173.4 678.0,172.3 684.8,172.3 686.5,172.9 689.0,174.5 696.3,175.4 698.8,174.5 704.5,172.9 708.5,168.8 712.6,164.8 715.0,160.7 719.0,156.6 720.8,153.3 724.0,149.3 726.5,145.2 729.8,141.1 732.0,137.0 736.0,133.0 739.0,129.2 743.0,126.0 745.7,121.9 749.8,117.8 752.0,113.7 756.3,110.5 758.4,105.7" fill="none" stroke="#6a8fc6" stroke-width="1.1" stroke-dasharray="5.5 4.5" shape-rendering="crispEdges"/>
<rect x="543.5" y="76.5" width="210" height="71" fill="none" stroke="#555" stroke-width="1.2"/>
<line x1="0" y1="71.5" x2="1192" y2="71.5" stroke="#6a6a6a" stroke-width="1" stroke-dasharray="2 2.8"/>
<line x1="758" y1="105.5" x2="1192" y2="105.5" stroke="#6a6a6a" stroke-width="1" stroke-dasharray="2 2.8"/>
<line x1="758" y1="141.5" x2="1192" y2="141.5" stroke="#6a6a6a" stroke-width="1" stroke-dasharray="2 2.8"/>
<line x1="757" y1="241.5" x2="1192" y2="241.5" stroke="#6a6a6a" stroke-width="1" stroke-dasharray="2 2.8"/>
<line x1="760" y1="399.5" x2="1192" y2="399.5" stroke="#6a6a6a" stroke-width="1" stroke-dasharray="2 2.8"/>
<line x1="760" y1="411.5" x2="1192" y2="411.5" stroke="#6a6a6a" stroke-width="1" stroke-dasharray="2 2.8"/>
<line x1="7" y1="75.5" x2="1184" y2="75.5" stroke="#b000b0" stroke-width="1.15"/>
<polygon points="0,75.5 7.5,71.5 7.5,79.5" fill="#b000b0"/>
<polygon points="1191.5,75.5 1184,71.5 1184,79.5" fill="#b000b0"/>
<line x1="7" y1="89.5" x2="1184" y2="89.5" stroke="#ff8000" stroke-width="1.15"/>
<polygon points="0,89.5 7.5,85.5 7.5,93.5" fill="#ff8000"/>
<polygon points="1191.5,89.5 1184,85.5 1184,93.5" fill="#ff8000"/>
<line x1="11.5" y1="97.5" x2="1184" y2="97.5" stroke="#ff8000" stroke-width="1.15" stroke-dasharray="5.5 4.5"/>
<polygon points="0,97.5 7.5,93.5 7.5,101.5" fill="#ff8000"/>
<polygon points="1191.5,97.5 1184,93.5 1184,101.5" fill="#ff8000"/>
<line x1="7" y1="113.5" x2="1184" y2="113.5" stroke="#ff0000" stroke-width="1.15"/>
<polygon points="0,113.5 7.5,109.5 7.5,117.5" fill="#ff0000"/>
<polygon points="1191.5,113.5 1184,109.5 1184,117.5" fill="#ff0000"/>
<line x1="11.5" y1="129.5" x2="1184" y2="129.5" stroke="#4040ff" stroke-width="1.15" stroke-dasharray="5.5 4.5"/>
<polygon points="0,129.5 7.5,125.5 7.5,133.5" fill="#4040ff"/>
<polygon points="1191.5,129.5 1184,125.5 1184,133.5" fill="#4040ff"/>
<text x="758.8" y="164" fill="#555" textLength="52.5" lengthAdjust="spacingAndGlyphs">41 / 875.6</text>
<line x1="0" y1="417.5" x2="1192" y2="417.5" stroke="#cbcbcb" stroke-width="1" stroke-dasharray="6 4"/>
<line x1="0" y1="487.5" x2="1192" y2="487.5" stroke="#cbcbcb" stroke-width="1" stroke-dasharray="6 4"/>
<text x="1186.5" y="414.5" text-anchor="end" fill="#cdcdcd">80</text>
<text x="1186.5" y="485" text-anchor="end" fill="#cdcdcd">20</text>
<polyline points="0.0,453.9 4.0,447.9 7.0,438.9 9.0,428.9 12.0,418.9 17.0,413.6 24.0,417.4 30.9,418.9 33.9,432.9 38.9,442.9 44.9,450.9 47.3,457.9 47.9,448.9 50.9,437.9 55.9,427.9 58.9,418.9 61.9,406.6 65.9,412.0 69.9,410.0 76.8,405.4 83.8,406.0 88.8,412.0 91.8,422.9 97.8,432.9 99.8,435.9 102.8,440.9 104.8,433.9 108.8,427.9 113.8,425.9 117.8,434.9 121.8,450.9 125.7,466.9 129.7,474.8 132.7,474.8 136.7,466.9 140.7,452.9 144.7,439.9 149.7,435.3 153.7,439.9 156.7,447.9 159.1,455.3 162.7,445.9 167.7,435.9 171.7,418.9 175.6,411.0 180.6,416.0 185.6,426.9 188.6,442.9 190.6,450.9 190.0,450.9 194.0,446.9 199.0,437.9 203.0,426.9 206.4,422.5 210.0,430.9 215.0,441.9 219.9,447.9 224.9,450.9 229.9,441.9 234.9,426.9 238.9,411.0 241.5,404.6 244.9,410.0 247.9,417.0 249.9,426.9 252.9,446.9 255.9,464.9 258.9,480.8 261.9,489.8 266.8,492.2 271.8,492.2 275.8,486.8 279.8,474.8 283.8,460.9 287.8,444.9 291.8,430.9 295.8,417.0 299.8,410.0 303.4,408.0 305.8,417.0 308.8,432.9 311.8,444.9 313.8,450.9 317.7,449.9 321.7,446.9 327.7,445.9 331.7,454.9 335.7,466.9 339.7,476.8 343.7,474.8 347.7,464.9 350.7,448.9 353.7,426.9 356.7,415.0 359.7,412.0 363.7,413.0 366.6,418.0 370.6,423.9 374.6,418.9 379.6,418.0 380.0,418.0 384.0,410.0 390.0,405.0 395.0,400.0 399.0,406.0 405.0,416.0 410.9,422.9 414.9,434.9 418.9,441.9 424.9,444.9 427.9,434.9 430.9,422.9 434.9,413.0 438.9,409.4 442.9,415.0 446.9,426.9 449.9,440.9 451.9,447.9 456.8,441.9 459.8,430.9 463.8,415.0 467.8,404.6 471.8,408.0 477.8,408.0 483.8,408.0 488.8,406.0 494.8,411.0 499.8,414.0 503.8,419.9 509.7,418.0 517.7,418.5 523.7,418.9 528.7,433.9 534.7,440.9 539.7,434.9 543.7,428.9 547.7,418.9 552.1,414.0 556.6,418.0 560.6,424.9 563.6,436.9 566.6,450.9 569.6,466.9 570.0,472.8 574.0,480.8 580.0,491.8 586.0,488.8 592.0,485.8 596.9,476.8 600.9,462.9 603.9,444.9 607.9,428.9 612.9,418.9 616.3,414.0 617.9,428.9 620.9,442.9 624.9,454.9 629.9,466.9 633.9,459.9 637.9,446.9 641.9,428.9 645.8,413.0 649.8,403.0 652.8,399.0 656.8,406.0 659.8,418.9 661.8,432.9 664.8,448.9 667.8,464.9 671.8,479.8 677.8,477.8 683.8,470.8 689.8,465.9 694.8,452.9 698.7,436.9 702.7,418.9 706.7,412.0 710.7,404.0 714.7,400.6 718.7,402.0 723.7,401.4 729.7,404.0 735.7,412.0 741.7,422.9 745.2,431.9 749.6,422.9 753.6,413.0 758.6,400.0 759.6,399.6" fill="none" stroke="#6a8fc6" stroke-width="1" stroke-dasharray="5 3" shape-rendering="crispEdges"/>
<polyline points="0.0,454.9 6.0,451.9 10.0,439.9 14.0,428.9 18.0,420.9 24.0,416.6 31.9,418.5 37.9,428.9 42.9,437.9 47.3,447.9 53.9,442.9 58.9,432.9 63.9,417.0 68.9,411.0 75.8,408.0 81.8,407.0 87.8,408.0 92.8,414.0 97.8,422.9 101.8,430.9 106.8,433.9 111.8,430.9 117.8,429.9 122.8,439.9 127.7,454.9 132.7,466.9 136.7,470.8 139.7,468.8 144.7,456.9 148.7,444.9 154.7,440.9 159.7,444.9 163.7,445.9 169.7,441.9 175.6,426.9 180.6,418.0 185.6,418.0 189.6,428.9 190.0,429.9 194.0,436.9 197.0,441.9 202.0,439.9 207.0,433.9 213.0,429.9 216.9,435.9 220.9,442.9 225.5,447.9 230.9,443.9 236.9,432.9 241.9,418.9 246.9,413.0 250.9,418.9 253.9,429.9 256.9,444.9 259.9,460.9 262.9,474.8 266.8,484.8 272.8,490.8 277.8,488.8 281.8,482.8 285.8,472.8 289.8,458.9 293.8,442.9 298.8,426.9 303.8,416.0 307.8,417.0 311.8,426.9 315.7,438.9 320.7,446.9 326.7,448.5 331.7,449.9 336.7,458.9 341.7,468.8 345.7,470.8 349.7,467.9 353.7,454.9 357.7,436.9 361.7,423.9 365.6,417.0 371.6,417.0 376.6,418.9 379.6,418.5 380.0,418.9 386.0,413.0 392.0,406.0 397.0,403.0 403.0,406.0 408.9,412.0 413.9,422.9 419.9,434.9 425.9,442.9 431.9,435.9 436.9,422.9 441.9,415.0 446.9,416.0 451.9,426.9 456.8,438.9 461.8,438.5 465.8,428.9 470.8,415.0 474.8,407.0 481.8,407.4 488.8,407.0 495.8,408.6 500.8,412.0 505.7,416.0 511.7,418.5 519.7,418.5 524.7,418.9 530.7,427.9 536.7,434.9 542.7,435.9 548.7,427.9 553.7,419.9 557.6,418.0 562.6,422.9 566.6,431.9 569.6,441.9 570.0,441.9 573.0,452.9 576.0,466.9 580.0,480.8 585.0,486.8 590.0,488.8 595.0,486.8 599.9,478.8 603.9,464.9 607.9,450.9 611.9,436.9 616.3,423.9 621.9,429.9 625.9,440.9 629.9,453.9 633.9,458.9 638.9,455.9 642.9,442.9 646.8,428.9 651.8,415.0 656.8,407.0 661.8,412.0 664.8,422.9 667.8,436.9 670.8,450.9 673.8,464.9 677.8,474.8 681.8,476.8 687.8,471.8 693.8,464.9 698.7,452.9 702.7,438.9 706.7,424.9 710.7,413.0 715.7,405.0 721.7,401.4 727.7,402.0 733.7,404.0 739.7,411.0 744.7,419.9 749.6,423.9 754.6,420.9 758.6,412.0 759.6,411.6" fill="none" stroke="#008000" stroke-width="1" stroke-dasharray="4 3" shape-rendering="crispEdges"/>
<defs><clipPath id="cp"><rect x="1190" y="395" width="80" height="100"/></clipPath></defs>
<g><polygon points="1193.2,242.0 1197,235.5 1263.5,235.5 1263.5,248.5 1197,248.5" fill="#fff" stroke="#fff" stroke-width="3" stroke-opacity="0.8"/>
<polygon points="1193.2,242.0 1197,235.5 1263.5,235.5 1263.5,248.5 1197,248.5" fill="#7092be" stroke="#333" stroke-width="1"/>
<text x="1210" y="245.8" fill="#222" textLength="38" lengthAdjust="spacingAndGlyphs">42.721</text></g>
<g><polygon points="1193.2,130.0 1197,124.0 1263.5,124.0 1263.5,136.0 1197,136.0" fill="#fff" stroke="#fff" stroke-width="2" stroke-opacity="0.8"/>
<polygon points="1193.2,130.0 1197,124.0 1263.5,124.0 1263.5,136.0 1197,136.0" fill="#4040ff"/>
<text x="1210" y="133.8" fill="#fff" textLength="38" lengthAdjust="spacingAndGlyphs">56.528</text></g>
<g><polygon points="1193.2,142.0 1197,135.5 1263.5,135.5 1263.5,148.5 1197,148.5" fill="#fff" stroke="#fff" stroke-width="3" stroke-opacity="0.8"/>
<polygon points="1193.2,142.0 1197,135.5 1263.5,135.5 1263.5,148.5 1197,148.5" fill="#7092be" stroke="#333" stroke-width="1"/>
<text x="1210" y="145.8" fill="#222" textLength="38" lengthAdjust="spacingAndGlyphs">55.054</text></g>
<g><polygon points="1193.2,114.0 1197,108.0 1263.5,108.0 1263.5,120.0 1197,120.0" fill="#fff" stroke="#fff" stroke-width="2" stroke-opacity="0.8"/>
<polygon points="1193.2,114.0 1197,108.0 1263.5,108.0 1263.5,120.0 1197,120.0" fill="#ff0000"/>
<text x="1210" y="117.8" fill="#fff" textLength="38" lengthAdjust="spacingAndGlyphs">58.034</text></g>
<g><polygon points="1193.2,106.0 1197,99.5 1263.5,99.5 1263.5,112.5 1197,112.5" fill="#fff" stroke="#fff" stroke-width="3" stroke-opacity="0.8"/>
<polygon points="1193.2,106.0 1197,99.5 1263.5,99.5 1263.5,112.5 1197,112.5" fill="#7092be" stroke="#333" stroke-width="1"/>
<text x="1210" y="109.8" fill="#222" textLength="38" lengthAdjust="spacingAndGlyphs">59.586</text></g>
<g><polygon points="1193.2,76.0 1197,70.0 1263.5,70.0 1263.5,82.0 1197,82.0" fill="#fff" stroke="#fff" stroke-width="2" stroke-opacity="0.8"/>
<polygon points="1193.2,76.0 1197,70.0 1263.5,70.0 1263.5,82.0 1197,82.0" fill="#b000b0"/>
<text x="1210" y="79.8" fill="#fff" textLength="38" lengthAdjust="spacingAndGlyphs">63.240</text></g>
<g><polygon points="1193.2,90.0 1197,83.5 1263.5,83.5 1263.5,96.5 1197,96.5" fill="#fff" stroke="#fff" stroke-width="3" stroke-opacity="0.8"/>
<polygon points="1193.2,90.0 1197,83.5 1263.5,83.5 1263.5,96.5 1197,96.5" fill="#ff8000" stroke="#333" stroke-width="1"/>
<text x="1210" y="93.8" fill="#222" textLength="38" lengthAdjust="spacingAndGlyphs">61.613</text></g>
<g><polygon points="1193.2,72.0 1197,66.0 1263.5,66.0 1263.5,78.0 1197,78.0" fill="#fff" stroke="#fff" stroke-width="2" stroke-opacity="0.8"/>
<polygon points="1193.2,72.0 1197,66.0 1263.5,66.0 1263.5,78.0 1197,78.0" fill="#9b0000"/>
<text x="1210" y="75.8" fill="#fff" textLength="38" lengthAdjust="spacingAndGlyphs">63.851</text></g>
<g clip-path="url(#cp)"><polygon points="1193.2,400.0 1197,393.5 1263.5,393.5 1263.5,406.5 1197,406.5" fill="#fff" stroke="#fff" stroke-width="3" stroke-opacity="0.8"/>
<polygon points="1193.2,400.0 1197,393.5 1263.5,393.5 1263.5,406.5 1197,406.5" fill="#7092be" stroke="#333" stroke-width="1"/>
<text x="1210" y="403.8" fill="#222" textLength="38" lengthAdjust="spacingAndGlyphs">95.609</text></g>
<g><polygon points="1193.2,412.0 1197,405.5 1263.5,405.5 1263.5,418.5 1197,418.5" fill="#fff" stroke="#fff" stroke-width="3" stroke-opacity="0.8"/>
<polygon points="1193.2,412.0 1197,405.5 1263.5,405.5 1263.5,418.5 1197,418.5" fill="#178217" stroke="#222" stroke-width="1"/>
<text x="1210" y="415.8" fill="#fff" textLength="38" lengthAdjust="spacingAndGlyphs">84.708</text></g>
</svg></body></html>
